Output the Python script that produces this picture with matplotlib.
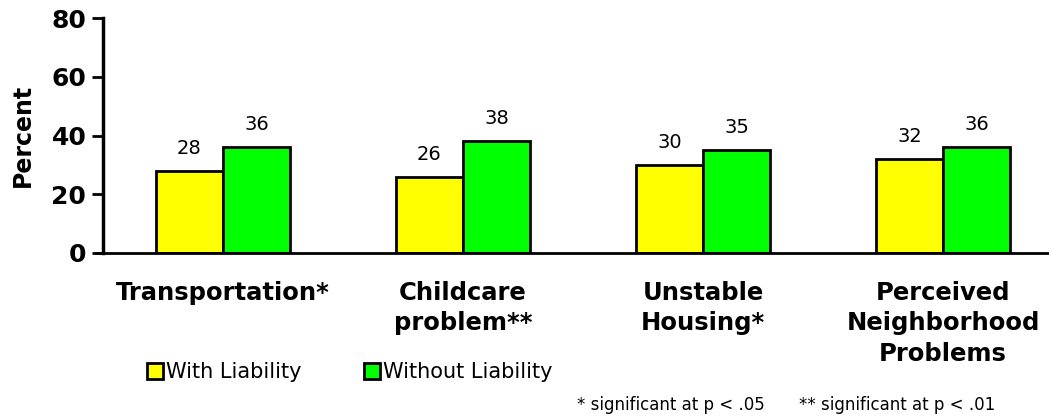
import numpy as np
import matplotlib
matplotlib.use('Agg')
import matplotlib.pyplot as plt
import matplotlib.patches as mpatches

# 数据
categories = ['Transportation*', 'Childcare\nproblem**', 'Unstable\nHousing*',
              'Perceived\nNeighborhood\nProblems']
with_liability = [28, 26, 30, 32]
without_liability = [36, 38, 35, 36]
series_names = ['With Liability', 'Without Liability']
yticks = [0, 20, 40, 60, 80]

plt.rcParams['font.family'] = ['DejaVu Sans']

fig = plt.figure(figsize=(10.49, 4.18), dpi=100)
# 坐标轴右侧延伸出图外
ax = fig.add_axes([103 / 1049, 165 / 418, 960 / 1049, 235 / 418])

x = np.arange(len(categories))
w = 0.28
b1 = ax.bar(x - w / 2, with_liability, w, color='#ffff00', edgecolor='black', linewidth=2)
b2 = ax.bar(x + w / 2, without_liability, w, color='#00ff00', edgecolor='black', linewidth=2)

for bars, vals in [(b1, with_liability), (b2, without_liability)]:
    for r, v in zip(bars, vals):
        ax.text(r.get_x() + r.get_width() / 2, v + 4.4, str(v),
                ha='center', va='bottom', fontsize=14)

ax.set_xlim(-0.5, len(categories) - 0.5)
ax.set_ylim(0, 80)
ax.set_yticks(yticks)
ax.set_yticklabels([str(t) for t in yticks], fontsize=18, fontweight='bold')
ax.set_xticks(x)
ax.set_xticklabels(categories, fontsize=17.5, fontweight='bold', linespacing=1.34)
ax.tick_params(axis='x', length=0, pad=20)
ax.tick_params(axis='y', length=8, width=2, pad=4)
ax.set_ylabel('Percent', fontsize=17, fontweight='bold', labelpad=12)

for s in ['top', 'right']:
    ax.spines[s].set_visible(False)
ax.spines['left'].set_linewidth(2.5)
ax.spines['bottom'].set_linewidth(2)
ax.spines['bottom'].set_bounds(-0.535, len(categories) - 0.5)
ax.spines['bottom'].set_capstyle('butt')

# 图例
handles = [mpatches.Patch(facecolor='#ffff00', edgecolor='black', linewidth=2),
           mpatches.Patch(facecolor='#00ff00', edgecolor='black', linewidth=2)]
fig.legend(handles, series_names, loc='center left', bbox_to_anchor=(147 / 1049, 1 - 372 / 418),
           ncol=2, frameon=False, fontsize=15, handlelength=0.77, handleheight=0.77,
           handletextpad=0.15, columnspacing=3.0, borderaxespad=0, borderpad=0)

fig.text(577 / 1049, 1 - 405 / 418, '* significant at p < .05', fontsize=12, va='center')
fig.text(799 / 1049, 1 - 405 / 418, '** significant at p < .01', fontsize=12, va='center')

fig.savefig('out.png', dpi=100)
